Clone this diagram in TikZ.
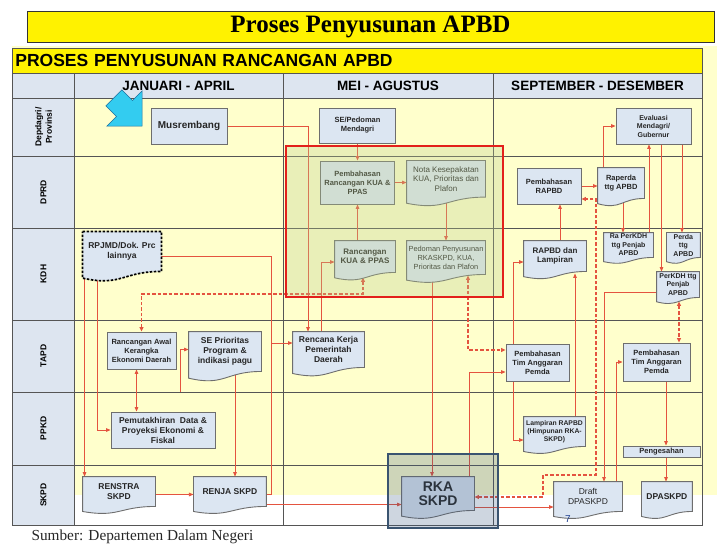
\documentclass[tikz,border=0pt]{standalone}
\usepackage{fontspec}
\setmainfont{Liberation Sans}
\newfontfamily\serifface{Liberation Serif}
\usepackage{tikz}
\usetikzlibrary{shapes.arrows, arrows.meta, positioning, calc, fit}
\definecolor{BoxFill}{HTML}{DCE6F2}
\definecolor{BoxLine}{HTML}{6E6E6E}
\definecolor{LaneFill}{HTML}{FFFFCC}
\definecolor{HeadFill}{HTML}{DDE5F0}
\definecolor{GridLine}{HTML}{555555}
\definecolor{LinkRed}{HTML}{E4533F}
\definecolor{FocusRed}{HTML}{E3201B}
\definecolor{FocusTint}{RGB}{185,205,140}
\definecolor{RkaTint}{RGB}{60,90,130}
\definecolor{RkaLine}{HTML}{3A5470}
\definecolor{PointerCyan}{HTML}{33CCF0}
\definecolor{PointerLine}{HTML}{1E6F9F}
\definecolor{PageBlue}{HTML}{1F3F8F}
\newcommand\fsz[2]{\fontsize{#1}{#2}\selectfont}
% document outline with wavy bottom, drawn round a node
\newcommand\docshape[2][docline]{%
  \path[#1] let \p1=(#2.north west), \p2=(#2.south east), \n1={\y1-\y2} in
    (\p1) -- (\x2,\y1) -- (\p2)
    .. controls ({0.5*(\x1+\x2)},\y2) and ({0.5*(\x1+\x2)},{\y2-0.384*\n1}) ..
    (\x1,{\y2-0.1675*\n1}) -- cycle;}
\pgfdeclarelayer{back}\pgfdeclarelayer{lines}\pgfdeclarelayer{docs}\pgfdeclarelayer{front}
\pgfsetlayers{back,lines,docs,main,front}

\begin{document}
\begin{tikzpicture}[
    x=1pt, y=-1pt,
    box/.style={draw=BoxLine, fill=BoxFill, line width=0.9pt, align=center, inner sep=1pt, text=black!85, font=\bfseries\fsz{7.5}{9}},
    doc/.style={box, draw=none, fill=none},
    docline/.style={draw=BoxLine, fill=BoxFill, line width=0.9pt},
    docdash/.style={draw=black, fill=BoxFill, line width=1.7pt, dash pattern=on 2.5pt off 1.5pt},
    fsmall/.style={font=\bfseries\fsz{7}{8.5}},
    lanelabel/.style={rotate=90, align=center, font=\bfseries\fsz{8.5}{10.5}},
    colhead/.style={font=\bfseries\fsz{13.5}{15}},
    link/.style={draw=LinkRed, line width=0.75pt, -{Triangle[length=4.5pt, width=3.6pt]}},
    plain/.style={draw=LinkRed, line width=0.75pt},
    duallink/.style={link, {Triangle[length=4.5pt, width=3.6pt]}-{Triangle[length=4.5pt, width=3.6pt]}},
    dlink/.style={draw=LinkRed, line width=1.3pt, dash pattern=on 3.5pt off 2pt,
      {Triangle[length=4.5pt, width=4pt]}-{Triangle[length=4.5pt, width=4pt]}},
    focusbox/.style={draw=FocusRed, line width=2pt, fill=FocusTint, fill opacity=0.3, inner sep=0pt},
    rkabox/.style={draw=RkaLine, line width=1.4pt, fill=RkaTint, fill opacity=0.25, inner sep=0pt},
    pointer/.style={single arrow, draw=PointerLine, fill=PointerCyan, line width=0.6pt, inner sep=8pt,
      minimum width=50pt, minimum height=40pt, single arrow head extend=10pt}
  ]
  \useasboundingbox (0,0) rectangle (728,546);

  % Titles
  \node[draw=black!80, fill=yellow, line width=0.8pt, minimum width=687pt, minimum height=31pt,
        font=\serifface\bfseries\fsz{25}{28}] (title) at (370.5,26.5) {Proses Penyusunan APBD};

  % Lanes and columns
  \begin{pgfonlayer}{back}
    \fill[LaneFill] (12,46) rectangle (717,495);
    \fill[HeadFill] (12,73) rectangle (702,98);
    \fill[HeadFill] (12,98) rectangle (74,525);
    \draw[GridLine, line width=0.8pt] (12,73) rectangle (702,525);
    \foreach \gx in {74,283,493} \draw[GridLine, line width=0.8pt] (\gx,73) -- (\gx,525);
    \foreach \gy in {98,156,228,320,392,465} \draw[GridLine, line width=0.8pt] (12,\gy) -- (702,\gy);
  \end{pgfonlayer}
  \node[draw=GridLine, fill=yellow, line width=0.8pt, anchor=north west, text width=684pt, inner xsep=3pt,
        minimum height=25pt, align=left, font=\bfseries\fsz{17.5}{19}] (subtitle) at (12,48) {PROSES PENYUSUNAN RANCANGAN APBD};
  \node[colhead] (janapr) at (178.5,86) {JANUARI - APRIL};
  \node[colhead] (meiagu) at (388,86) {MEI - AGUSTUS};
  \node[colhead] (sepdes) at (597.5,86) {SEPTEMBER - DESEMBER};
  \node[lanelabel] (lanedepdagri) at (43.5,127) {Depdagri/\\Provinsi};
  \node[lanelabel] (lanedprd) at (43.5,192) {DPRD};
  \node[lanelabel] (lanekdh) at (43.5,274) {KDH};
  \node[lanelabel] (lanetapd) at (43.5,356) {TAPD};
  \node[lanelabel] (laneppkd) at (43.5,428.5) {PPKD};
  \node[lanelabel] (laneskpd) at (43.5,495) {SKPD};

  % Depdagri / Provinsi
  \node[pointer, rotate=-45] (pointer) at (124,108) {};
  \node[box, font=\bfseries\fsz{10}{12}, minimum width=76pt, minimum height=36pt] (musrembang) at (189,126) {Musrembang};
  \node[box, minimum width=76pt, minimum height=35pt] (sepedoman) at (357.5,125.5) {SE/Pedoman\\Mendagri};
  \node[box, fsmall, minimum width=75pt, minimum height=36pt] (evaluasi) at (653.5,126) {Evaluasi\\Mendagri/\\Gubernur};

  % DPRD
  \node[box, minimum width=74pt, minimum height=43pt] (bahaskua) at (357.5,182.5) {Pembahasan\\Rancangan KUA \&\\PPAS};
  \node[doc, font=\fsz{8}{9.5}, minimum width=78pt, minimum height=35.7pt] (nota) at (446,178.8) {Nota Kesepakatan\\KUA, Prioritas dan\\Plafon};
  \node[box, minimum width=64pt, minimum height=36pt] (bahasrapbd) at (549,186) {Pembahasan\\RAPBD};
  \node[doc, minimum width=46pt, minimum height=30pt] (raperda) at (621,183) {Raperda\\ttg APBD};

  % KDH
  \node[doc, font=\bfseries\fsz{8.5}{10}, minimum width=78pt, minimum height=39pt] (rpjmd) at (122,251.5) {RPJMD/Dok. Prc\\lainnya};
  \node[doc, font=\bfseries\fsz{8}{9.5}, minimum width=60pt, minimum height=31pt] (rkua) at (365,256.5) {Rancangan\\KUA \& PPAS};
  \node[doc, font=\fsz{7.4}{9}, minimum width=78pt, minimum height=33pt] (pedoman) at (446,257.5) {Pedoman Penyusunan\\RKASKPD, KUA,\\Prioritas dan Plafon};
  \node[doc, font=\bfseries\fsz{8}{9.5}, minimum width=62pt, minimum height=30pt] (rapbd) at (555,256) {RAPBD dan\\Lampiran};
  \node[doc, fsmall, minimum width=49pt, minimum height=24pt] (raperkdh) at (628.5,245) {Ra PerKDH\\ttg Penjab\\APBD};
  \node[doc, fsmall, minimum width=33pt, minimum height=24pt, right=13pt of raperkdh] (perda) {Perda\\ttg\\APBD};
  \node[doc, fsmall, minimum width=42pt, minimum height=25pt] (perkdh) at (678,284.5) {PerKDH ttg\\Penjab\\APBD};

  % TAPD
  \node[box, minimum width=69pt, minimum height=37pt] (rawal) at (141.5,350.5) {Rancangan Awal\\Kerangka\\Ekonomi Daerah};
  \node[doc, font=\bfseries\fsz{8.5}{10}, minimum width=72pt, minimum height=39pt] (seprior) at (225,351.5) {SE Prioritas\\Program \&\\indikasi pagu};
  \node[doc, font=\bfseries\fsz{8.5}{10}, minimum width=71pt, minimum height=35pt] (rkpd) at (328.5,349.5) {Rencana Kerja\\Pemerintah\\Daerah};
  \node[box, minimum width=63pt, minimum height=37pt] (timleft) at (537.5,362.5) {Pembahasan\\Tim Anggaran\\Pemda};
  \node[box, minimum width=67pt, minimum height=38pt] (timright) at (656.5,362) {Pembahasan\\Tim Anggaran\\Pemda};

  % PPKD
  \node[box, font=\bfseries\fsz{8.5}{10}, minimum width=104pt, minimum height=36pt] (pemutakhiran) at (163,430) {Pemutakhiran~ Data \&\\Proyeksi Ekonomi \&\\Fiskal};
  \node[doc, font=\bfseries\fsz{6.8}{8}, minimum width=61pt, minimum height=29pt] (lampiran) at (554.5,431.5) {Lampiran RAPBD\\(Himpunan RKA-\\SKPD)};
  \node[box, minimum width=77pt, minimum height=11pt] (pengesahan) at (661.5,451.5) {Pengesahan};

  % SKPD
  \node[doc, font=\bfseries\fsz{8.5}{10}, minimum width=72pt, minimum height=29pt] (renstra) at (119,491.5) {RENSTRA\\SKPD};
  \node[doc, font=\bfseries\fsz{8.5}{10}, minimum width=72pt, minimum height=29pt, right=38pt of renstra] (renja) {RENJA SKPD};
  \node[doc, font=\bfseries\fsz{14}{14.5}, minimum width=72pt, minimum height=33pt] (rka) at (438,493.5) {RKA\\SKPD};
  \node[doc, font=\fsz{8.5}{10}, minimum width=68pt, minimum height=29pt] (draft) at (588,496.5) {Draft\\DPASKPD};
  \node[doc, font=\bfseries\fsz{8.5}{10}, minimum width=50pt, minimum height=29pt, right=19pt of draft] (dpaskpd) {DPASKPD};

  % Document outlines
  \begin{pgfonlayer}{docs}
    \foreach \d in {nota, raperda, rkua, pedoman, rapbd, raperkdh, perda, perkdh, seprior, rkpd, lampiran, renstra, renja, rka, draft, dpaskpd}
      \docshape{\d};
    \docshape[docdash]{rpjmd};
  \end{pgfonlayer}

  % Connectors
  \coordinate (jn) at (271,343);
  \coordinate (pb) at (180,392);
  \coordinate (dk) at (141.5,294);
  \coordinate (dr1) at (543,475);
  \coordinate (dr2) at (596,199);
  \begin{pgfonlayer}{lines}
    \draw[link] (musrembang.east) -| ([xshift=-20.5pt]rkpd.north);
    \draw[link] (sepedoman.south) -- (bahaskua.north);
    \draw[link] (bahaskua.east) -- (bahaskua.east -| nota.west);
    \draw[link] (nota.south) -- (pedoman.north);
    \draw[link] (bahaskua.south |- rkua.north) -- (bahaskua.south);
    \draw[link] ([yshift=-4.5pt]rpjmd.east) -| (jn) -- (jn -| rkpd.west);
    \draw[plain] ([yshift=-3pt]renja.east) -| (jn);
    \draw[link] ([xshift=2pt]rpjmd.south west) -- ([xshift=2pt]renstra.north west);
    \draw[link] ([xshift=15pt]rpjmd.south west) |- (pemutakhiran.west);
    \draw[dlink] (rawal.north) -- (dk) -| ([xshift=-2pt, yshift=-5pt]rkua.south);
    \draw[duallink] ([xshift=-5pt]rawal.south) -- ([xshift=-5pt]rawal.south |- pemutakhiran.north);
    \draw[link] (pb) |- ([yshift=2pt]seprior.west);
    \draw[link] ([xshift=10pt]seprior.south) -- ([xshift=10pt]seprior.south |- renja.north);
    \draw[link] ([yshift=-3pt]renstra.east) -- ([yshift=-3pt]renja.west);
    \draw[link] ([yshift=-13pt]renja.east) -- ([yshift=-13pt]renja.east -| rka.west);
    \draw[link] ([xshift=-7.5pt]rkpd.north) |- ([yshift=-5.5pt]rkua.west);
    \draw[link] ([xshift=-14pt]pedoman.south) -- ([xshift=-14pt]pedoman.south |- rka.north);
    \draw[dlink] ([xshift=22pt, yshift=-1pt]pedoman.south) |- ([yshift=12.5pt]timleft.west);
    \draw[link] ([xshift=31pt]rka.north) |- ([yshift=-9.5pt]timleft.west);
    \draw[link] ([xshift=-24.5pt]timleft.north) |- ([yshift=-6pt]rapbd.west);
    \draw[link] ([xshift=-24.5pt]timleft.south) |- ([yshift=-8.5pt]lampiran.west);
    \draw[link] ([xshift=20.5pt]lampiran.north) -- ([xshift=20pt, yshift=-2pt]rapbd.south);
    \draw[link] ([xshift=5pt]rapbd.north) -- ([xshift=5pt]rapbd.north |- bahasrapbd.south);
    \draw[link] (bahasrapbd.east) -- (bahasrapbd.east -| raperda.west);
    \draw[dlink] ([yshift=-3.5pt]rka.east) -| (dr1) -| (dr2) -- (dr2 -| bahasrapbd.east);
    \draw[link] ([yshift=-13.5pt]rka.east) -- ([yshift=-13.5pt]rka.east -| draft.west);
    \draw[link] ([xshift=-18pt]raperda.north) |- (evaluasi.west);
    \draw[link] ([xshift=2pt]raperda.south) -- ([xshift=2pt]raperda.south |- raperkdh.north);
    \draw[link] ([xshift=20.5pt]raperkdh.north) -- ([xshift=20.5pt]raperkdh.north |- evaluasi.south);
    \draw[link] ([xshift=8pt]evaluasi.south) -- ([xshift=8pt]evaluasi.south |- perkdh.north);
    \draw[link] ([xshift=28.5pt]evaluasi.south) -- ([xshift=28.5pt]evaluasi.south |- perda.north);
    \draw[link] ([yshift=-7.5pt]perkdh.west) -| ([xshift=16pt]draft.north);
    \draw[link] ([xshift=28pt]draft.north) |- (timright.west);
    \draw[dlink] ([xshift=1pt, yshift=-4pt]perkdh.south) -- ([xshift=1pt]perkdh.south |- timright.north);
    \draw[link] ([xshift=9.5pt]timright.south) -- ([xshift=9.5pt]timright.south |- pengesahan.north);
    \draw[link] ([xshift=4.5pt]pengesahan.south) -- ([xshift=4.5pt]pengesahan.south |- dpaskpd.north);
  \end{pgfonlayer}

  % Highlight frames
  \begin{pgfonlayer}{front}
    \node[focusbox, fit={(286,146) (503,297)}] (kuaframe) {};
    \node[rkabox, fit={(388,454) (498,528)}] (rkaframe) {};
    \node[text=PageBlue, font=\fsz{10}{12}] (pagenum) at (568,519) {7};
  \end{pgfonlayer}

  \node[anchor=west, font=\serifface\fsz{15.3}{17}, text=black!85] (source) at (28,537) {Sumber: Departemen Dalam Negeri};
\end{tikzpicture}
\end{document}
